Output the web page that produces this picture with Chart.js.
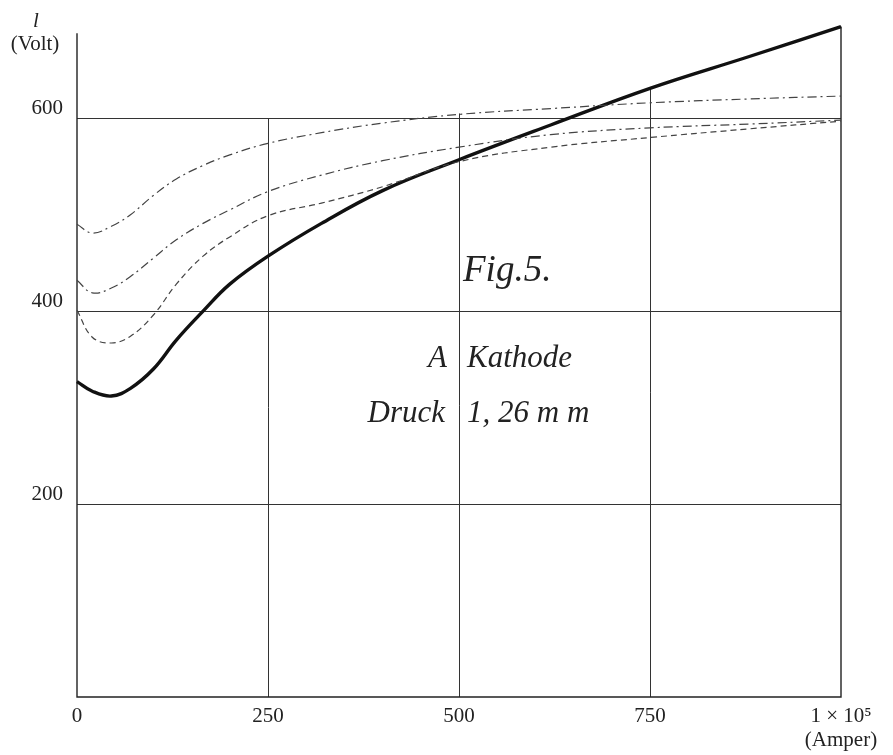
<!DOCTYPE html>
<html>
<head>
<meta charset="utf-8">
<script src="https://cdn.jsdelivr.net/npm/chart.js@4.4.1/dist/chart.umd.min.js"></script>
<style>
  html, body { margin: 0; padding: 0; background: #fff; }
  #wrap { width: 893px; height: 755px; position: relative; }
</style>
</head>
<body>
<div id="wrap"><canvas id="fig5"></canvas></div>
<script>
// current i (x 10^-5 Amper) and tension (Volt)
var amps     = [0, 20, 45, 70, 100, 130, 165, 200, 250, 320, 400, 500, 620, 750, 880, 1000];
var voltA    = [490, 481, 488, 500, 520, 537, 551, 562, 574, 585, 595, 604, 610, 616, 620, 623]; // dash-dot, upper
var voltB    = [432, 419, 424, 436, 455, 474, 491, 505, 524, 541, 556, 570, 583, 590, 594, 598]; // dash-dot, lower
var voltC    = [401, 373, 367, 374, 396, 428, 457, 477, 499, 512, 529, 555, 570, 580, 589, 597]; // dashed
var voltD    = [327, 317, 312, 320, 340, 370, 400, 428, 457, 491, 525, 557, 593, 631, 664, 695]; // heavy solid

var xTicks   = [0, 250, 500, 750, 1000];
var yTicks   = [200, 400, 600];
var gridTops = [600, 605, 632];   // how high the vertical rules at 250/500/750 reach (Volt)
var axisTopL = 688;
var axisTopR = 695;

function pts(vals) {
  return amps.map(function (a, i) { return { x: a, y: vals[i] }; });
}

var serif = '"Liberation Serif", "DejaVu Serif", serif';
var ink = '#222';

// rules and axes, drawn under the curves
var rulesPlugin = {
  id: 'rules',
  beforeDatasetsDraw: function (chart) {
    var c = chart.ctx, xs = chart.scales.x, ys = chart.scales.y;
    var l = xs.getPixelForValue(0), r = xs.getPixelForValue(1000), b = ys.getPixelForValue(0);
    c.save();
    c.strokeStyle = '#333';
    c.lineWidth = 1;
    yTicks.forEach(function (v) {
      var y = Math.round(ys.getPixelForValue(v)) + 0.5;
      c.beginPath(); c.moveTo(l, y); c.lineTo(r, y); c.stroke();
    });
    [250, 500, 750].forEach(function (v, i) {
      var x = Math.round(xs.getPixelForValue(v)) + 0.5;
      c.beginPath(); c.moveTo(x, b); c.lineTo(x, ys.getPixelForValue(gridTops[i])); c.stroke();
    });
    c.strokeStyle = ink;
    c.lineWidth = 1.4;
    c.beginPath();
    c.moveTo(l, ys.getPixelForValue(axisTopL));
    c.lineTo(l, b);
    c.lineTo(r, b);
    c.lineTo(r, ys.getPixelForValue(axisTopR));
    c.stroke();
    c.restore();
  }
};

// captions
var textPlugin = {
  id: 'captions',
  afterDraw: function (chart) {
    var c = chart.ctx;
    c.save();
    c.fillStyle = ink;
    c.textBaseline = 'alphabetic';
    c.textAlign = 'center';
    c.font = 'italic 21px ' + serif;
    c.fillText('l', 36, 27);
    c.font = '21px ' + serif;
    c.fillText('(Volt)', 35, 50);

    c.textAlign = 'left';
    c.font = 'italic 37px ' + serif;
    c.fillText('Fig.5.', 463, 281);
    c.font = 'italic 31px ' + serif;
    c.fillText('Kathode', 467, 367);
    c.fillText('1, 26 m m', 467, 422);
    c.textAlign = 'right';
    c.fillText('A', 447, 367);
    c.fillText('Druck', 445, 422);
    c.restore();
  }
};

function line(vals, width, dash, color) {
  return {
    data: pts(vals),
    borderColor: color,
    borderWidth: width,
    borderDash: dash,
    pointRadius: 0,
    fill: false,
    tension: 0.4,
    clip: 6
  };
}

new Chart(document.getElementById('fig5'), {
  type: 'line',
  data: {
    datasets: [
      line(voltA, 1.2, [9, 4, 2, 4], '#444'),
      line(voltB, 1.2, [9, 4, 2, 4], '#444'),
      line(voltC, 1.2, [6, 4], '#444'),
      line(voltD, 3.4, [], '#111')
    ]
  },
  options: {
    responsive: true,
    maintainAspectRatio: false,
    animation: false,
    layout: { padding: { left: 0, right: 52, top: 26, bottom: 0 } },
    plugins: { legend: { display: false }, tooltip: { enabled: false } },
    scales: {
      x: {
        type: 'linear',
        min: 0,
        max: 1000,
        grid: { display: false, drawTicks: false },
        border: { display: false },
        afterBuildTicks: function (s) { s.ticks = xTicks.map(function (v) { return { value: v }; }); },
        afterFit: function (s) { s.height = 58; },
        ticks: {
          autoSkip: false,
          maxRotation: 0,
          padding: 7,
          color: ink,
          font: { family: serif, size: 21, lineHeight: 1.15 },
          callback: function (v) { return v === 1000 ? ['1 \u00d7 10\u2075', '(Amper)'] : String(v); }
        }
      },
      y: {
        type: 'linear',
        min: 0,
        max: 695,
        grid: { display: false, drawTicks: false },
        border: { display: false },
        afterBuildTicks: function (s) { s.ticks = yTicks.map(function (v) { return { value: v }; }); },
        afterFit: function (s) { s.width = 77; },
        ticks: {
          padding: 14,
          labelOffset: -10,
          color: ink,
          font: { family: serif, size: 21 }
        }
      }
    }
  },
  plugins: [rulesPlugin, textPlugin]
});
</script>
</body>
</html>
